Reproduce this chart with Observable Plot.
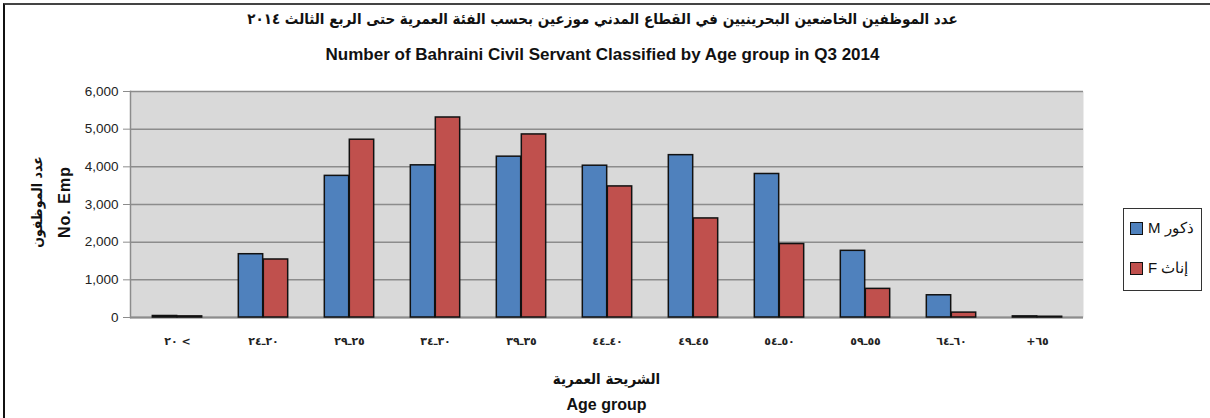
<!DOCTYPE html>
<html>
<head>
<meta charset="utf-8">
<script src="https://cdn.jsdelivr.net/npm/d3@7"></script>
<script src="https://cdn.jsdelivr.net/npm/@observablehq/plot@0.6"></script>
<style>
  html, body { margin: 0; padding: 0; background: #fff; }
  #page { position: relative; width: 1210px; height: 418px; overflow: hidden; font-family: "Liberation Sans", sans-serif; }
  #border { position: absolute; left: 3px; top: 3px; width: 1210px; height: 420px; border-left: 2px solid #111; border-top: 2px solid #444; }
  .t { position: absolute; white-space: nowrap; color: #111; }
  #titleAr { left: 0; width: 1205px; top: 10px; text-align: center; font: bold 15px "DejaVu Sans Condensed", "DejaVu Sans", sans-serif; direction: rtl; }
  #titleEn { left: 0; width: 1205px; top: 45px; text-align: center; font: bold 17px "Liberation Sans", sans-serif; }
  #chart { position: absolute; left: 0; top: 75px; }
  #ytitle { position: absolute; left: 51px; top: 202px; transform: translate(-50%, -50%) rotate(-90deg); text-align: center; white-space: nowrap; }
  #ytitle .ar { font: bold 14px "DejaVu Sans Condensed", "DejaVu Sans", sans-serif; line-height: 28px; direction: rtl; }
  #ytitle .en { font: bold 16px "Liberation Sans", sans-serif; line-height: 28px; letter-spacing: 1px; }
  #xtitleAr { left: 130px; width: 953px; top: 370px; text-align: center; font: bold 15px "DejaVu Sans Condensed", "DejaVu Sans", sans-serif; direction: rtl; }
  #xtitleEn { left: 130px; width: 953px; top: 396px; text-align: center; font: bold 16px "Liberation Sans", sans-serif; }
  #legend { position: absolute; left: 1123px; top: 208px; width: 79px; height: 83px; border: 1.5px solid #333; box-sizing: border-box; }
  .li { position: absolute; left: 6px; font: 15px "Liberation Sans", sans-serif; color: #111; white-space: nowrap; display: flex; align-items: center; }
  .sw { width: 11px; height: 11px; border: 1px solid #111; margin-right: 5px; }
</style>
</head>
<body>
<div id="page">
  <div id="border"></div>
  <div class="t" id="titleAr">عدد الموظفين الخاضعين البحرينيين في القطاع المدني موزعين بحسب الفئة العمرية حتى الربع الثالث ٢٠١٤</div>
  <div class="t" id="titleEn">Number of Bahraini Civil Servant Classified by Age group in Q3 2014</div>
  <div id="chart"></div>
  <div class="t" id="ytitle"><div class="ar">عدد الموظفون</div><div class="en">No. Emp</div></div>
  <div class="t" id="xtitleAr">الشريحة العمرية</div>
  <div class="t" id="xtitleEn">Age group</div>
  <div id="legend"></div>
</div>
<script>
// Categories (age groups, Arabic-Indic digits)
const ageGroups = ["٢٠ <", "٢٠ـ٢٤", "٢٥ـ٢٩", "٣٠ـ٣٤", "٣٥ـ٣٩", "٤٠ـ٤٤", "٤٥ـ٤٩", "٥٠ـ٥٤", "٥٥ـ٥٩", "٦٠ـ٦٤", "+٦٥"];
// Series values
const maleValues   = [40, 1680, 3760, 4040, 4270, 4030, 4310, 3810, 1770, 590, 30];
const femaleValues = [30, 1540, 4720, 5310, 4860, 3480, 2630, 1950, 760, 130, 20];
// Series keys and legend labels
const seriesKeys = ["M", "F"];
const seriesLabels = ["M ذكور", "F إناث"];
const seriesColors = ["#4f81bd", "#c0504d"];
// Y tick values
const yTicks = [0, 1000, 2000, 3000, 4000, 5000, 6000];

const table = ageGroups.flatMap((age, i) => [
  {age, sex: "M", value: maleValues[i]},
  {age, sex: "F", value: femaleValues[i]}
]);

const W = 1210, H = 343, mL = 130, mR = 127;
const band = (W - mL - mR) / ageGroups.length;
const barW = 25;
const inset = (band - barW) / 2;

const chart = Plot.plot({
  width: W,
  height: H,
  marginTop: 16,
  marginBottom: 101,
  marginLeft: mL,
  marginRight: mR,
  style: {background: "transparent", color: "#222", overflow: "visible"},
  x: {domain: ageGroups, padding: 0},
  y: {domain: [0, 6000]},
  color: {domain: seriesKeys, range: seriesColors},
  marks: [
    Plot.frame({fill: "#d9d9d9", stroke: null}),
    Plot.ruleY(yTicks, {stroke: "#8c8c8c", strokeWidth: 1.5}),
    Plot.frame({anchor: "left", stroke: "#8c8c8c", strokeWidth: 1.5}),
    Plot.ruleY([0], {stroke: "#8c8c8c", strokeWidth: 2}),
    Plot.barY(table.filter(d => d.sex === "M"), {x: "age", y: "value", fill: "sex", stroke: "#111", strokeWidth: 1.5, insetLeft: inset, insetRight: inset, dx: -barW / 2}),
    Plot.barY(table.filter(d => d.sex === "F"), {x: "age", y: "value", fill: "sex", stroke: "#111", strokeWidth: 1.5, insetLeft: inset, insetRight: inset, dx: barW / 2}),
    Plot.axisY({ticks: yTicks, tickFormat: d3.format(","), tickSize: 7, tickPadding: 5, stroke: "#8c8c8c", fill: "#222", fontSize: 13.5, fontFamily: "Liberation Sans", label: null}),
    Plot.axisX({tickSize: 0, tickPadding: 20, fill: "#222", fontSize: 11, fontWeight: "bold", fontFamily: "DejaVu Sans", label: null})
  ]
});
document.getElementById("chart").appendChild(chart);

const legend = document.getElementById("legend");
seriesKeys.forEach((k, i) => {
  const item = document.createElement("div");
  item.className = "li";
  item.style.top = (i === 0 ? 10 : 50) + "px";
  const sw = document.createElement("span");
  sw.className = "sw";
  sw.style.background = seriesColors[i];
  const tx = document.createElement("span");
  tx.textContent = seriesLabels[i];
  item.appendChild(sw);
  item.appendChild(tx);
  legend.appendChild(item);
});
</script>
</body>
</html>
